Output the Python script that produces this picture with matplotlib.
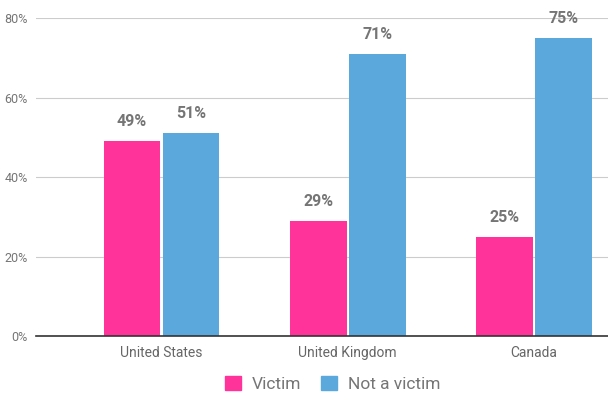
#!/usr/bin/env python3

import matplotlib.pyplot as plt
from matplotlib.patches import Patch

countries = ['United States', 'United Kingdom', 'Canada']
victim = [49, 29, 25]
not_victim = [51, 71, 75]

pink = '#ff3399'
blue = '#5ba8dc'
grey_text = '#757575'


def main():
    plt.rcParams['font.family'] = ['Roboto', 'DejaVu Sans']
    fig = plt.figure(figsize=(6.08, 3.94), dpi=100)
    ax = fig.add_axes([0.0592, 0.1472, 0.9408, 0.8071])

    width = 0.304
    gap = 0.012
    xs = range(len(countries))
    left = [x - width / 2 - gap / 2 for x in xs]
    right = [x + width / 2 + gap / 2 for x in xs]
    bars_v = ax.bar(left, victim, width, color=pink, zorder=3)
    bars_n = ax.bar(right, not_victim, width, color=blue, zorder=3)

    for bars, vals in ((bars_v, victim), (bars_n, not_victim)):
        for b, v in zip(bars, vals):
            ax.text(b.get_x() + b.get_width() / 2, v + 3, '{0}%'.format(v),
                    ha='center', va='bottom', fontsize=11.5, fontweight='bold',
                    color=grey_text)

    ax.set_xlim(-0.674, 2.397)
    ax.set_ylim(0, 80)
    ax.set_yticks([0, 20, 40, 60, 80])
    ax.set_yticklabels(['{0}%'.format(t) for t in [0, 20, 40, 60, 80]])
    ax.set_xticks(list(xs))
    ax.set_xticklabels(countries)
    ax.tick_params(axis='y', length=0, pad=6, labelsize=9, labelcolor=grey_text)
    ax.tick_params(axis='x', length=0, pad=7, labelsize=10, labelcolor='#666666')
    ax.yaxis.grid(True, color='#cccccc', lw=0.8, zorder=0)
    for side in ('top', 'right', 'left'):
        ax.spines[side].set_visible(False)
    ax.spines['bottom'].set_color('#333333')
    ax.spines['bottom'].set_linewidth(1.2)
    ax.spines['bottom'].set_zorder(4)

    handles = [Patch(color=pink, label='Victim'), Patch(color=blue, label='Not a victim')]
    fig.legend(handles=handles, loc='center', bbox_to_anchor=(0.547, 0.025),
               ncol=2, frameon=False, fontsize=12.5, labelcolor=grey_text,
               handlelength=0.9, handleheight=0.9, handletextpad=0.6,
               columnspacing=1.2)

    fig.savefig('out.png', dpi=100)


if __name__ == '__main__':
    main()
